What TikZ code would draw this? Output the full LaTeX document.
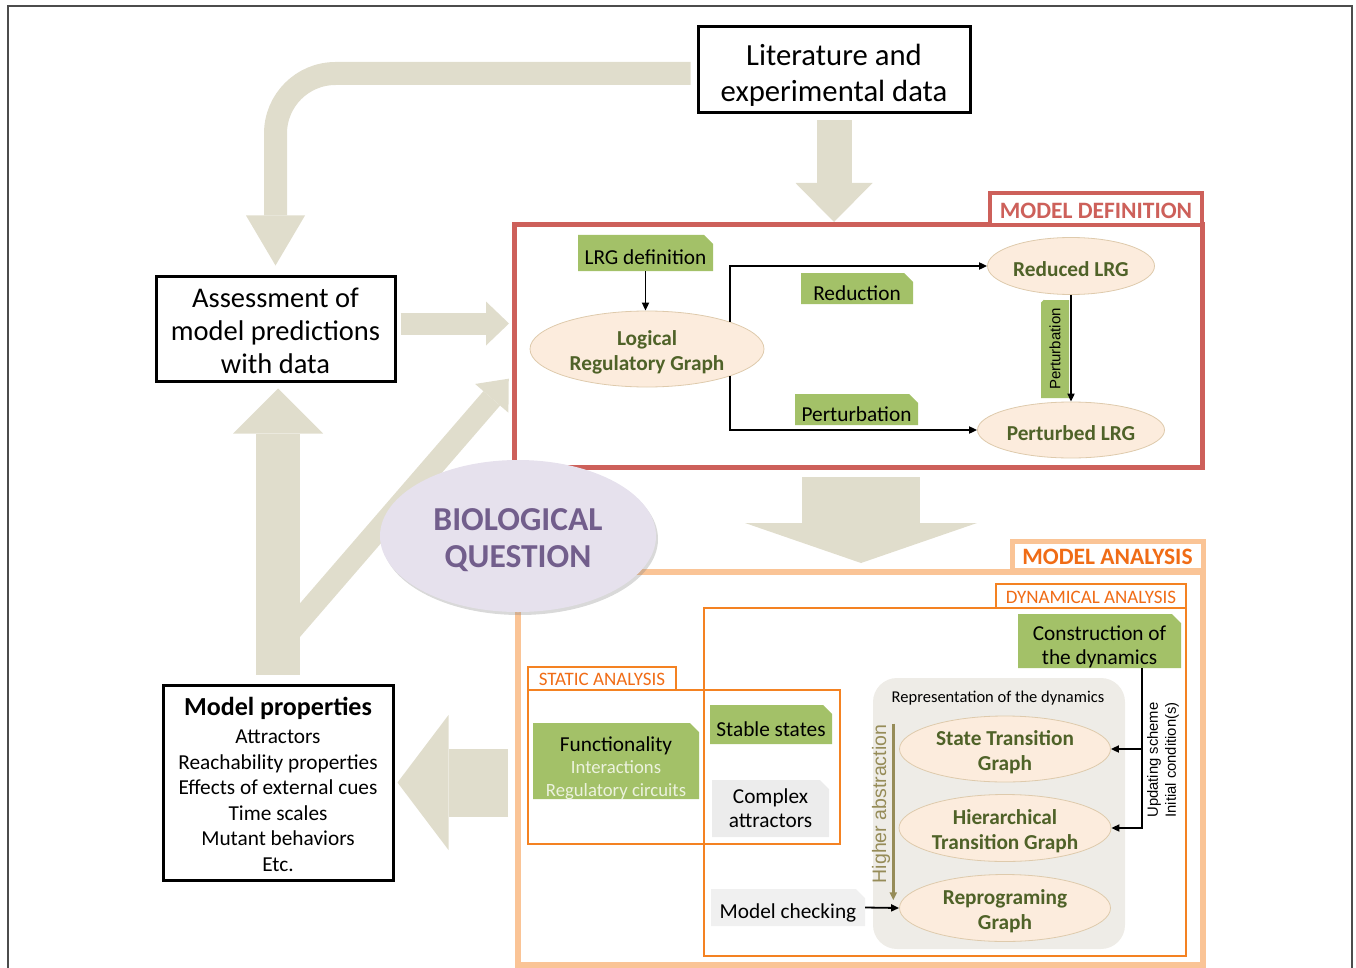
\documentclass[tikz,border=0pt]{standalone}
\usepackage{fontspec}
\setmainfont{Carlito}
\newfontfamily\arialfont{Liberation Sans}
\usepackage{tikz}
\usetikzlibrary{arrows.meta,positioning,calc,shapes.geometric,shapes.misc,shadows}

\definecolor{beige}{RGB}{224,221,204}
\definecolor{defred}{RGB}{205,96,90}
\definecolor{anapeach}{RGB}{250,196,150}
\definecolor{anaorange}{RGB}{240,108,22}
\definecolor{thinorange}{RGB}{244,130,34}
\definecolor{boxgreen}{RGB}{163,193,104}
\definecolor{palegreen}{RGB}{236,242,222}
\definecolor{darkgreen}{RGB}{79,98,40}
\definecolor{ellfill}{RGB}{252,236,221}
\definecolor{ellline}{RGB}{222,202,172}
\definecolor{biofill}{RGB}{230,225,237}
\definecolor{biotext}{RGB}{114,94,140}
\definecolor{reprfill}{RGB}{238,236,231}
\definecolor{khaki}{RGB}{150,140,88}

\newcommand{\fsz}[2]{\fontsize{#1}{#2}\selectfont}

\tikzset{
  x=1pt, y=-1pt,
  blk/.style={rectangle, draw, line width=3pt, align=center, inner sep=0pt},
  frm/.style={rectangle, draw=#1, inner sep=0pt, outer sep=0pt},
  tag/.style={rectangle, draw=#1, fill=white, text=#1, inner sep=0pt, outer sep=0pt},
  grn/.style={chamfered rectangle, chamfered rectangle corners=north east,
              chamfered rectangle xsep=6pt, fill=boxgreen, inner xsep=0pt, inner ysep=-6pt,
              align=center, font=\fsz{21.3}{24}, text height=23.4pt},
  gry/.style={grn, fill=gray!15},
  ell/.style={ellipse, draw=ellline, line width=0.8pt, fill=ellfill, text=darkgreen,
              align=center, inner xsep=0pt, inner ysep=-6pt, text height=21.6pt,
              font=\bfseries\fsz{21.3}{24.5}},
  bio/.style={ellipse, fill=biofill, text=biotext, align=center, inner sep=0pt,
              font=\bfseries\fsz{33.5}{37}, text height=66.6pt,
              drop shadow={opacity=0.3, shadow xshift=2pt, shadow yshift=-3pt}},
  conn/.style={line width=1.8pt, -{Triangle[length=8pt, width=7pt]}},
  bigarr/.style n args={3}{draw=beige, line width=#1pt,
              -{Triangle[length=#2pt, width=#3pt, line width=0pt]}},
  vtxt/.style={rotate=90, align=center, inner sep=1pt},
}

\begin{document}
\begin{tikzpicture}
\useasboundingbox (0,0) rectangle (1356,968);
\draw[line width=1.6pt, black!70] (8,990) -- (8,6) -- (1352,6) -- (1352,990);

% outer boxes
\node[blk, minimum width=272pt, minimum height=86pt, font=\fsz{30.7}{36}, text height=67.5pt] (lit) at (834,70)
  {Literature and\\experimental data};
\node[blk, minimum width=239pt, minimum height=105pt, font=\fsz{28.5}{33}, text height=91pt] (assess) at (275.5,328.5)
  {Assessment of\\model predictions\\with data};
\node[blk, minimum width=230pt, minimum height=195pt, font=\fsz{21.3}{25.5}, text height=177.7pt] (props) at (278,782.5)
  {{\bfseries\fsz{26}{25.5}Model properties}\\[2.5pt]Attractors\\Reachability properties\\Effects of external cues\\Time scales\\Mutant behaviors\\Etc.};

% frames
\node[frm=defred, line width=5pt, minimum width=688pt, minimum height=242pt] (deff) at (858,346) {};
\node[frm=anapeach, line width=6pt, minimum width=685pt, minimum height=393pt] (anaf) at (860.5,768.5) {};

% big arrows
\coordinate (fork) at (288,634);
\draw[bigarr={22}{26}{44}, shorten >=8pt] (fork) -- ($(deff.south west)!0.39!(deff.north west)$);
\draw[bigarr={44}{45}{90}, shorten <=9pt, shorten >=6pt] (props.north) -- (props.north |- assess.south);
\draw[bigarr={23}{50}{59}, rounded corners=60pt, shorten <=6pt, shorten >=9pt]
  ([yshift=-3.5pt]lit.west) -| (assess.north);
\draw[bigarr={35}{39}{77}, shorten <=6pt, shorten >=3pt] (lit.south) -- (lit.south |- deff.north);
\draw[bigarr={22}{23}{44}, shorten <=4pt, shorten >=5pt]
  ([yshift=5pt]assess.east) -- ([yshift=5pt]assess.east -| deff.west);
\draw[bigarr={118}{40}{232}, shorten <=10pt, shorten >=9pt]
  ([xshift=3pt]deff.south) -- ([xshift=3pt]deff.south |- anaf.north);
\draw[bigarr={68}{51}{135}, shorten <=10pt, shorten >=3pt]
  ([yshift=-14pt]anaf.west) -- ([yshift=-14pt]anaf.west -| props.east);

\node[bio, minimum width=276pt, minimum height=152pt] (bio) at (518,536) {BIOLOGICAL\\QUESTION};

% frame labels
\node[tag=defred, line width=4pt, anchor=south east, minimum width=212pt, minimum height=32pt,
  font=\bfseries\fsz{23.5}{26}, text height=19pt] (defl) at (deff.north east) {MODEL DEFINITION};
\node[tag=anapeach, text=anaorange, line width=5pt, anchor=south east, minimum width=191pt,
  minimum height=29pt, font=\bfseries\fsz{23.5}{26}, text height=17.5pt] (anal) at ([yshift=2pt]anaf.north east) {MODEL ANALYSIS};

% model definition
\node[grn, minimum width=135pt, minimum height=36pt] (lrgdef) at (645.5,253) {LRG definition};
\node[ell, minimum width=234pt, minimum height=76pt, text height=46pt] (lrg) at (647,349) {Logical\\Regulatory Graph};
\node[ell, minimum width=167pt, minimum height=57pt] (red) at (1071,266) {Reduced LRG};
\node[ell, minimum width=187pt, minimum height=56pt] (pert) at (1071,430) {Perturbed LRG};
\node[grn, minimum width=112pt, minimum height=31pt] (redl) at (857,288.5) {Reduction};
\node[grn, minimum width=123pt, minimum height=31pt] (pertl) at (856.5,409.5) {Perturbation};
\node[grn, rotate=90, minimum width=98pt, minimum height=28pt, font=\arialfont\fsz{15}{18},
  text height=10.7pt] (pertv) at (1055,349) {Perturbation};
\draw[conn] (lrgdef.south) -- (lrgdef.south |- lrg.north);
\draw[conn] (lrg.18) |- (red.west);
\draw[conn] (lrg.-18) |- (pert.west);
\draw[conn] (red.south) -- (pert.north);

% model analysis
\node[frm=thinorange, line width=2pt, minimum width=482pt, minimum height=348pt] (dynf) at (945,782) {};
\node[tag=thinorange, text=anaorange, line width=2pt, anchor=south east, minimum width=190pt,
  minimum height=24pt, font=\fsz{19}{20}, text height=14.2pt] (dynl) at (dynf.north east) {DYNAMICAL ANALYSIS};
\node[frm=thinorange, line width=2pt, minimum width=312pt, minimum height=154pt] (statf) at (684,767) {};
\node[tag=thinorange, text=anaorange, line width=2pt, anchor=south west, minimum width=148pt,
  minimum height=23pt, font=\fsz{19}{20}, text height=14.2pt] (statl) at (statf.north west) {STATIC ANALYSIS};
\node[rectangle, rounded corners=24pt, fill=reprfill, minimum width=252pt, minimum height=271pt]
  (repr) at (999,813.5) {};
\node[font=\fsz{16.5}{18}] (reprt) at (998,698) {Representation of the dynamics};

\node[grn, minimum width=166pt, minimum height=76pt, font=\fsz{21.3}{22.5}, text height=74pt] (func) at (616,761)
  {Functionality\\{\color{palegreen}\fsz{18.7}{22.5}Interactions}\\{\color{palegreen}\fsz{18.7}{22.5}Regulatory circuits}};
\node[grn, minimum width=122pt, minimum height=39pt] (stab) at (771,724.5) {Stable states};
\node[gry, minimum width=117pt, minimum height=57pt, text height=39pt] (cplx) at (770.5,808.5) {Complex\\attractors};
\node[gry, fill=gray!12, minimum width=154pt, minimum height=37pt, text height=25pt] (mchk) at (788,907.5) {Model checking};
\node[grn, minimum width=163pt, minimum height=54pt, text height=51pt] (cons) at (1099.5,641) {Construction of\\the dynamics};
\node[ell, minimum width=211pt, minimum height=66pt, text height=46pt] (stg) at (1005,749) {State Transition\\Graph};
\node[ell, minimum width=212pt, minimum height=67pt, text height=46pt] (htg) at (1005,828) {Hierarchical\\Transition Graph};
\node[ell, minimum width=211pt, minimum height=67pt, text height=46pt] (rpg) at (1005,908) {Reprograming\\Graph};
\node[vtxt, font=\arialfont\fsz{14.8}{18}] (upd) at (1163,760) {Updating scheme\\Initial condition(s)};
\node[vtxt, font=\arialfont\fsz{19.5}{22}, text=khaki] (habs) at (881,804) {Higher abstraction};

\coordinate (bus) at ($(cons.south)+(42.5,0)$);
\draw[conn] (bus) |- (htg.east);
\draw[conn] (bus |- stg.east) -- (stg.east);
\draw[conn] (mchk.east) -- (rpg.west);
\draw[conn, draw=khaki, line width=2.5pt] ([xshift=2pt]habs.south east) -- ([xshift=2pt,yshift=-16pt]habs.south west);
\end{tikzpicture}
\end{document}
